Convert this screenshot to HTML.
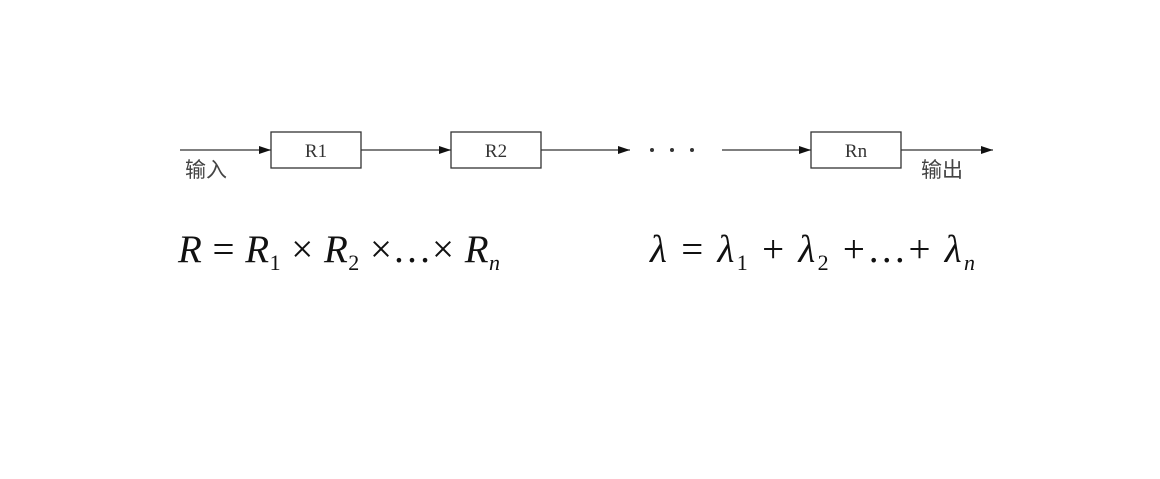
<!DOCTYPE html>
<html><head><meta charset="utf-8"><style>
body{margin:0;width:1160px;height:474px;background:#fff;overflow:hidden}
</style></head><body>
<svg width="1160" height="474" xmlns="http://www.w3.org/2000/svg">
<defs><marker id="a" markerWidth="12" markerHeight="8" refX="12" refY="4" orient="auto" markerUnits="userSpaceOnUse"><path d="M0,0 L12,4 L0,8 z" fill="#111"/></marker></defs>
<g stroke="#333" stroke-width="1.3" fill="none">
<line x1="180" y1="150" x2="271" y2="150" marker-end="url(#a)"/>
<rect x="271" y="132" width="90" height="36" fill="#fff"/>
<line x1="361" y1="150" x2="451" y2="150" marker-end="url(#a)"/>
<rect x="451" y="132" width="90" height="36" fill="#fff"/>
<line x1="541" y1="150" x2="630" y2="150" marker-end="url(#a)"/>
<line x1="722" y1="150" x2="811" y2="150" marker-end="url(#a)"/>
<rect x="811" y="132" width="90" height="36" fill="#fff"/>
<line x1="901" y1="150" x2="993" y2="150" marker-end="url(#a)"/>
</g>
<g fill="#333"><circle cx="652" cy="150" r="2"/><circle cx="672" cy="150" r="2"/><circle cx="692" cy="150" r="2"/></g>
<g font-family="Liberation Serif, serif" font-size="19" fill="#333" text-anchor="middle">
<text x="316" y="157">R1</text><text x="496" y="157">R2</text><text x="856" y="157">Rn</text>
</g>
<g font-family="Liberation Sans, 'Noto Sans CJK SC', sans-serif" font-size="21" fill="#444">
<text x="185" y="177">输入</text><text x="921" y="177">输出</text>
</g>
<g font-family="Liberation Serif, serif" font-size="39" fill="#111">
<text x="178" y="262" textLength="322" lengthAdjust="spacing"><tspan font-style="italic">R</tspan> = <tspan font-style="italic">R</tspan><tspan font-size="22" dy="8">1</tspan><tspan dy="-8"> × </tspan><tspan font-style="italic">R</tspan><tspan font-size="22" dy="8">2</tspan><tspan dy="-8"> ×…× </tspan><tspan font-style="italic">R</tspan><tspan font-size="22" dy="8" font-style="italic">n</tspan></text>
<text x="650" y="262" textLength="325" lengthAdjust="spacing"><tspan font-style="italic">λ</tspan> = <tspan font-style="italic">λ</tspan><tspan font-size="22" dy="8">1</tspan><tspan dy="-8"> + </tspan><tspan font-style="italic">λ</tspan><tspan font-size="22" dy="8">2</tspan><tspan dy="-8"> +…+ </tspan><tspan font-style="italic">λ</tspan><tspan font-size="22" dy="8" font-style="italic">n</tspan></text>
</g>
</svg>
</body></html>
